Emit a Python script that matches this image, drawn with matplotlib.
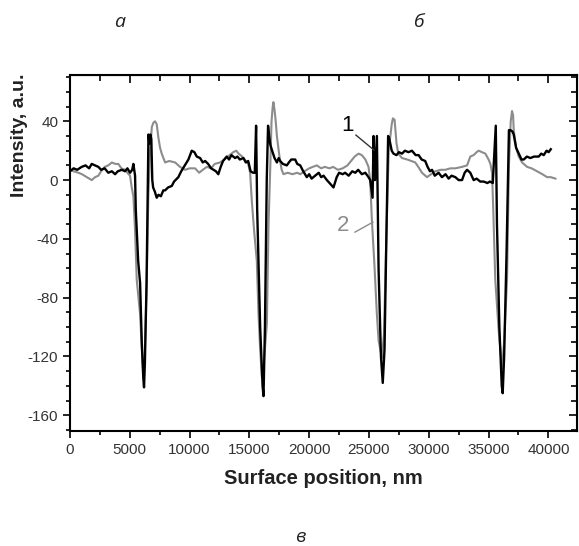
import matplotlib.pyplot as plt
from matplotlib.ticker import MultipleLocator

# curve 1 (black)
x1 = [0, 300, 600, 980, 1300, 1600, 1815, 2100, 2370, 2600, 2900, 3200, 3500, 3770, 4000,
      4330, 4600, 4800, 5020, 5200, 5300, 5440, 5500, 5700, 5860, 6000, 6130, 6190, 6260,
      6400, 6500, 6560, 6650, 6720, 6800, 6880, 6950, 7100, 7250, 7400, 7600, 7800, 7950,
      8200, 8510, 8700, 9060, 9300, 9600, 9900, 10180, 10400, 10600, 10880, 11100, 11300,
      11550, 11800, 12000, 12200, 12400, 12600, 12800, 13100, 13300, 13500, 13800, 14000,
      14200, 14500, 14700, 14900, 15100, 15300, 15450, 15560, 15650, 15900, 16100, 16180,
      16300, 16450, 16560, 16650, 16750, 16900, 17100, 17300, 17450, 17570, 17800, 18130,
      18300, 18500, 18830, 19000, 19250, 19500, 19800, 20000, 20200, 20500, 20800, 21000,
      21200, 21480, 21700, 22030, 22300, 22500, 22800, 23000, 23300, 23600, 23850, 24100,
      24400, 24690, 24960, 25100, 25300, 25380, 25500, 25660, 25800, 26000, 26150, 26300,
      26450, 26600, 26700, 26900, 27050, 27300, 27500, 27760, 28000, 28300, 28590, 28900,
      29150, 29400, 29700, 29900, 30100, 30270, 30500, 30820, 31100, 31400, 31660, 31900,
      32220, 32500, 32780, 33000, 33200, 33470, 33750, 34000, 34300, 34590, 34900, 35100,
      35350, 35600, 35700, 35900, 36100, 36180, 36300, 36500, 36700, 36820, 37000, 37100,
      37300, 37520, 37750, 37940, 38200, 38490, 38800, 39190, 39400, 39610, 39850, 40020,
      40200]
y1 = [6, 8, 7, 9, 10, 8, 11, 10, 9, 7, 8, 5, 6, 4, 6,
      7, 6, 8, 5, 7, 11, 3, -20, -55, -70, -110, -135, -141, -125,
      -70, -10, 31, 25, 31, 28, 0, -5, -8, -12, -10, -11, -7, -7,
      -5, -4, -1, 2, 6, 10, 14, 20, 19, 16, 15, 12, 13,
      11, 8, 7, 6, 4, 9, 13, 16, 14, 17, 15, 16,
      14, 15, 12, 13, 6, 5, 5, 37, -20, -100, -140, -147,
      -100, 0, 37, 30, 24, 20, 15, 12, 15, 13, 11, 10,
      12, 14, 14, 11, 10, 6, 2, 4, 1, 3, 5, 2,
      3, 0, -2, -5, 2, 5, 4, 5, 3, 6, 5, 7,
      4, 5, 2, 0, -12, 30, 0, 30, -60, -120, -138, -115,
      -40, 30, 28, 20, 18, 17, 19, 18, 20, 19, 20, 17,
      17, 14, 13, 9, 6, 7, 3, 5, 2, 4, 1, 3,
      2, 0, 0, 5, 7, 5, 0, 1, -1, -1, -2, -1,
      -2, 37, -30, -100, -140, -145, -120, -50, 34, 34, 33, 31,
      22, 18, 14, 14, 16, 15, 16, 16, 18, 17, 20, 19,
      21]

# curve 2 (grey)
x2 = [0, 300, 700, 1000, 1400, 1600, 1815, 2100, 2370, 2600, 2900, 3200, 3500, 3800, 4040,
      4300, 4600, 4800, 5020, 5160, 5300, 5440, 5580, 5860, 6000, 6130, 6250, 6420, 6550,
      6700, 6840, 6970, 7110, 7250, 7390, 7530, 7670, 7950, 8300, 8790, 9200, 9620, 10000,
      10460, 10800, 11100, 11440, 11800, 12100, 12550, 12900, 13200, 13650, 13900, 14100,
      14400, 14700, 14900, 15060, 15200, 15400, 15620, 15760, 15900, 16040, 16200, 16460,
      16600, 16750, 16850, 16950, 17010, 17100, 17200, 17300, 17450, 17570, 17700, 17850,
      18200, 18600, 19000, 19250, 19600, 20000, 20300, 20640, 21000, 21300, 21700, 22000,
      22400, 22800, 23200, 23500, 23800, 24130, 24400, 24700, 24960, 25100, 25240, 25450,
      25650, 25800, 26080, 26250, 26450, 26650, 26900, 27000, 27140, 27300, 27450, 27760,
      28200, 28870, 29200, 29430, 29850, 30200, 30540, 31000, 31380, 31800, 32220, 32780,
      33200, 33470, 33750, 34000, 34170, 34450, 34730, 35000, 35150, 35290, 35400, 35560,
      35840, 36120, 36300, 36540, 36700, 36850, 36960, 37050, 37100, 37300, 37520, 37800,
      38220, 38600, 39050, 39500, 39890, 40200, 40590]
y2 = [7, 6, 5, 4, 2, 1, 0, 2, 3, 6, 9, 10, 12, 11, 11,
      8, 7, 5, 3, -5, -11, -34, -68, -91, -114, -133, -120, -68, -11,
      20, 36, 39, 40, 38, 29, 22, 18, 12, 13, 12, 9, 7, 8,
      8, 5, 7, 9, 8, 11, 12, 14, 16, 19, 20, 18,
      16, 13, 11, 5, -14, -35, -55, -91, -115, -134, -125, -98,
      -30, 10, 40, 50, 53, 48, 40, 30, 20, 13, 7, 4,
      5, 4, 5, 4, 6, 8, 9, 10, 8, 9, 8, 9,
      7, 8, 10, 13, 16, 18, 17, 14, 9, 0, -27, -57,
      -90, -109, -121, -105, -40, 20, 38, 42, 41, 25, 18, 15,
      14, 12, 8, 5, 2, 4, 6, 7, 7, 8, 8, 9,
      10, 16, 17, 19, 20, 19, 18, 14, 11, 5, -23, -68,
      -102, -128, -110, -68, 10, 40, 47, 44, 34, 22, 16, 12,
      9, 8, 6, 4, 2, 2, 1]

plt.rcParams['font.family'] = ['Liberation Sans', 'DejaVu Sans']
plt.rcParams['axes.unicode_minus'] = False

fig = plt.figure(figsize=(5.79, 5.46), dpi=100)
ax = fig.add_axes([70 / 579, 1 - 430.7 / 546, 506.5 / 579, 355.7 / 546])

ax.plot(x2, y2, color='#8c8c8c', lw=1.5)
ax.plot(x1, y1, color='black', lw=1.7)

ax.set_xlim(0, 42350)
ax.set_ylim(-170.5, 71.5)
ax.xaxis.set_major_locator(MultipleLocator(5000))
ax.xaxis.set_minor_locator(MultipleLocator(2500))
ax.yaxis.set_major_locator(MultipleLocator(40))
ax.yaxis.set_minor_locator(MultipleLocator(10))

ax.tick_params(axis='both', which='both', labelsize=11, labelcolor='#333333', width=1.2,
               direction='out', top=False, right=False)
ax.tick_params(which='major', length=5)
ax.tick_params(which='minor', length=3)
for sp in ax.spines.values():
    sp.set_linewidth(1.5)

# top / right ticks point inward
top = ax.secondary_xaxis('top')
top.xaxis.set_major_locator(MultipleLocator(5000))
top.xaxis.set_minor_locator(MultipleLocator(2500))
top.tick_params(which='both', direction='in', labeltop=False, width=1.2)
top.tick_params(which='major', length=6)
top.tick_params(which='minor', length=4)
right = ax.secondary_yaxis('right')
right.yaxis.set_major_locator(MultipleLocator(40))
right.yaxis.set_minor_locator(MultipleLocator(10))
right.tick_params(which='both', direction='in', labelright=False, width=1.2)
right.tick_params(which='major', length=6)
right.tick_params(which='minor', length=4)

ax.set_xlabel('Surface position, nm', fontsize=14.5, fontweight='bold', color='#222222', labelpad=9)
ax.set_ylabel('Intensity, a.u.', fontsize=14, fontweight='bold', color='#222222')
ax.yaxis.set_label_coords(-0.082, 0.83)

ax.text(23240, 37, '1', fontsize=16, color='black', ha='center', va='center')
ax.plot([23910, 25420], [30.6, 20.4], color='#333333', lw=1)
ax.text(22830, -31, '2', fontsize=16, color='#8c8c8c', ha='center', va='center')
ax.plot([23830, 25330], [-35.4, -28.6], color='#8c8c8c', lw=1)

fig.text(120 / 579, 1 - 22 / 546, 'а', fontsize=14, style='italic', family='Open Sans',
         ha='center', va='center', color='#222222')
fig.text(418 / 579, 1 - 22 / 546, 'б', fontsize=14, style='italic', family='Open Sans',
         ha='center', va='center', color='#222222')
fig.text(300 / 579, 1 - 537 / 546, 'в', fontsize=14, style='italic', family='Open Sans',
         ha='center', va='center', color='#222222')

fig.savefig('out.png', dpi=100)
